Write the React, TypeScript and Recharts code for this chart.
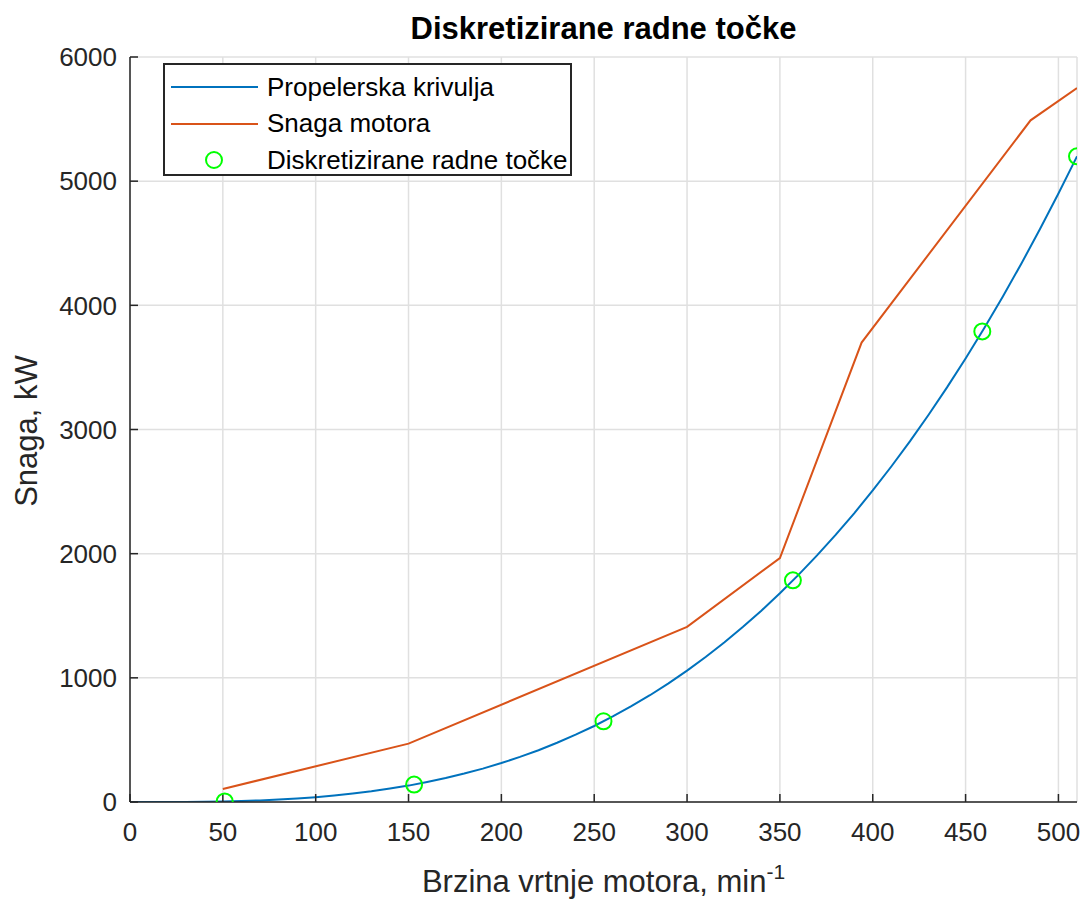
import React from 'react';
import {
  ComposedChart,
  Line,
  Scatter,
  XAxis,
  YAxis,
  CartesianGrid,
  Legend,
  Label,
} from 'recharts';

// Propelerska krivulja (očitano sa slike)
const propN = [0, 10, 20, 30, 40, 50, 60, 70, 80, 90, 100, 110, 120, 130, 140, 150, 160, 170, 180, 190, 200, 210, 220, 230, 240, 250, 260, 270, 280, 290, 300, 310, 320, 330, 340, 350, 360, 370, 380, 390, 400, 410, 420, 430, 440, 450, 460, 470, 480, 490, 500, 510];
const propP = [0, 0, 0, 1, 3, 5, 8, 13, 20, 29, 39, 52, 68, 86, 108, 132, 161, 193, 229, 269, 314, 363, 417, 477, 542, 612, 689, 772, 860, 956, 1058, 1168, 1284, 1409, 1541, 1681, 1829, 1986, 2151, 2325, 2509, 2702, 2904, 3117, 3339, 3572, 3816, 4070, 4335, 4612, 4900, 5200];

// Snaga motora
const motorN = [50, 150, 300, 350, 394, 485, 510];
const motorP = [105, 470, 1410, 1965, 3700, 5490, 5750];

// Diskretizirane radne točke
const pointN = [51, 153, 255, 357, 459, 510];
const pointP = [5, 140, 650, 1785, 3790, 5200];

const xTicks = [0, 50, 100, 150, 200, 250, 300, 350, 400, 450, 500];
const yTicks = [0, 1000, 2000, 3000, 4000, 5000, 6000];

const BLUE = '#0072BD';
const ORANGE = '#D95319';
const GREEN = '#00FF00';
const AXIS = '#262626';
const FONT = '"Liberation Sans", Arial, sans-serif';

const propData = propN.map((n, i) => ({ n, p: propP[i] }));
const motorData = motorN.map((n, i) => ({ n, p: motorP[i] }));
const pointData = pointN.map((n, i) => ({ n, p: pointP[i] }));

const Ring = (props: any) => {
  const { cx, cy } = props;
  if (cx == null || cy == null) return null;
  return <circle cx={cx} cy={cy} r={8} fill="none" stroke={GREEN} strokeWidth={2} />;
};

const LegendBox = () => (
  <div
    style={{
      width: 409,
      height: 113,
      border: `2px solid ${AXIS}`,
      background: '#fff',
      boxSizing: 'border-box',
      fontFamily: FONT,
      fontSize: 26,
      color: '#000',
      position: 'relative',
    }}
  >
    {[
      { name: 'Propelerska krivulja', kind: 'line', color: BLUE },
      { name: 'Snaga motora', kind: 'line', color: ORANGE },
      { name: 'Diskretizirane radne točke', kind: 'ring', color: GREEN },
    ].map((item, i) => (
      <div
        key={item.name}
        style={{ position: 'absolute', left: 0, top: 4 + i * 36.5, height: 36, display: 'flex', alignItems: 'center' }}
      >
        <svg width={102} height={36} style={{ display: 'block' }}>
          {item.kind === 'line' ? (
            <line x1={6} x2={93} y1={18} y2={18} stroke={item.color} strokeWidth={2} />
          ) : (
            <circle cx={49} cy={18} r={8} fill="none" stroke={item.color} strokeWidth={2} />
          )}
        </svg>
        <span style={{ whiteSpace: 'nowrap' }}>{item.name}</span>
      </div>
    ))}
  </div>
);

const XTitle = (props: any) => {
  const { viewBox } = props;
  const cx = viewBox.x + viewBox.width / 2;
  return (
    <text x={cx} y={892} textAnchor="middle" fontFamily={FONT} fontSize={31} fill={AXIS}>
      Brzina vrtnje motora, min
      <tspan fontSize={21} dy={-13}>-1</tspan>
    </text>
  );
};

const YTitle = () => (
  <text
    x={37}
    y={431}
    textAnchor="middle"
    transform="rotate(-90, 37, 431)"
    fontFamily={FONT}
    fontSize={31}
    fill={AXIS}
  >
    Snaga, kW
  </text>
);

const App: React.FC = () => {
  return (
    <div style={{ position: 'absolute', left: 0, top: 0, width: 1083, height: 900, background: '#fff' }}>
      <ComposedChart width={1083} height={900} margin={{ top: 57, right: 6, left: 70, bottom: 38 }}>
        <CartesianGrid stroke="#e0e0e0" strokeWidth={1.5} />
        <XAxis
          type="number"
          dataKey="n"
          domain={[0, 510]}
          ticks={xTicks}
          allowDataOverflow
          height={60}
          tickSize={-8}
          tickMargin={29}
          tick={{ fontFamily: FONT, fontSize: 26, fill: AXIS }}
          axisLine={{ stroke: AXIS, strokeWidth: 1.5 }}
          tickLine={{ stroke: AXIS, strokeWidth: 1.5 }}
        >
          <Label content={<XTitle />} />
        </XAxis>
        <YAxis
          type="number"
          dataKey="p"
          domain={[0, 6000]}
          ticks={yTicks}
          allowDataOverflow
          width={60}
          tickSize={-8}
          tickMargin={21}
          tick={{ fontFamily: FONT, fontSize: 26, fill: AXIS }}
          axisLine={{ stroke: AXIS, strokeWidth: 1.5 }}
          tickLine={{ stroke: AXIS, strokeWidth: 1.5 }}
        >
          <Label content={<YTitle />} />
        </YAxis>
        <Line
          data={propData}
          dataKey="p"
          name="Propelerska krivulja"
          type="linear"
          stroke={BLUE}
          strokeWidth={2}
          dot={false}
          isAnimationActive={false}
        />
        <Line
          data={motorData}
          dataKey="p"
          name="Snaga motora"
          type="linear"
          stroke={ORANGE}
          strokeWidth={2}
          dot={false}
          isAnimationActive={false}
        />
        <Scatter
          data={pointData}
          dataKey="p"
          name="Diskretizirane radne točke"
          shape={<Ring />}
          isAnimationActive={false}
        />
        <Legend
          layout="vertical"
          align="center"
          verticalAlign="middle"
          content={<LegendBox />}
          wrapperStyle={{ left: 163, top: 63, width: 409, height: 113 }}
        />
      </ComposedChart>
      <div
        style={{
          position: 'absolute',
          left: 0,
          width: 1083,
          top: 11,
          textAlign: 'center',
          paddingLeft: 124,
          boxSizing: 'border-box',
          fontFamily: FONT,
          fontWeight: 'bold',
          fontSize: 31,
          color: '#000',
          lineHeight: '36px',
        }}
      >
        Diskretizirane radne točke
      </div>
    </div>
  );
};

export default App;
